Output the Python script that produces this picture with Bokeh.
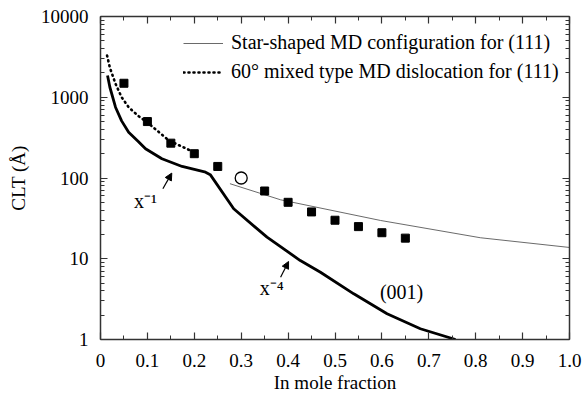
from bokeh.plotting import figure
from bokeh.models import (FixedTicker, LinearAxis, LogAxis, Legend, LegendItem,
                          CustomJSTickFormatter, Arrow, NormalHead, Label, Range1d)
from bokeh.embed import file_html
from bokeh.resources import INLINE

FONT = "Liberation Serif"

# (001) thick curve
thick_x = [0.015, 0.02, 0.032, 0.045, 0.06, 0.08, 0.096, 0.131, 0.174, 0.224, 0.234,
           0.284, 0.355, 0.426, 0.469, 0.54, 0.611, 0.682, 0.757]
thick_y = [1860, 1330, 753, 510, 369, 285, 230, 173, 139, 118, 110,
           41.6, 18.5, 9.5, 6.8, 3.68, 2.08, 1.36, 1.0]
# 60 deg mixed type MD dislocation (111)
dot_x = [0.014, 0.02, 0.032, 0.045, 0.06, 0.08, 0.0995, 0.146, 0.199]
dot_y = [3290, 2320, 1470, 1000, 753, 590, 490, 291, 209]
# Star-shaped MD configuration (111)
thin_x = [0.276, 0.384, 0.597, 0.81, 1.0]
thin_y = [85, 53.7, 29.8, 18.2, 13.8]
# measured points
sq_x = [0.05, 0.1, 0.15, 0.2, 0.25, 0.35, 0.4, 0.45, 0.5, 0.55, 0.6, 0.65]
sq_y = [1490, 500, 270, 200, 139, 69, 50, 38, 30, 25, 21, 18]
circ_x = [0.3]
circ_y = [100]

x_ticks = [0.0, 0.1, 0.2, 0.3, 0.4, 0.5, 0.6, 0.7, 0.8, 0.9, 1.0]
x_minor = [i * 0.05 for i in range(21)]
y_ticks = [1, 10, 100, 1000, 10000]
y_minor = [m * d for d in (1, 10, 100, 1000) for m in range(2, 10)]

p = figure(width=582, height=398, output_backend="svg", toolbar_location=None,
           y_axis_type="log", x_range=Range1d(0, 1.0), y_range=Range1d(1, 10000),
           min_border_left=100, min_border_right=13, min_border_top=16, min_border_bottom=59)
p.outline_line_color = None
p.grid.visible = False
p.background_fill_color = "white"

l_thin = p.line(thin_x, thin_y, line_color="#444444", line_width=0.8)
l_dot = p.line(dot_x, dot_y, line_color="black", line_width=2.6, line_dash="1 4",
               line_cap="round")
p.line(thick_x, thick_y, line_color="black", line_width=2.8)
p.scatter(sq_x, sq_y, marker="square", size=8, fill_color="black", line_color="black")
p.scatter(circ_x, circ_y, marker="circle", size=12, fill_color="white",
          line_color="black", line_width=1.3)

xt = FixedTicker(ticks=x_ticks, minor_ticks=x_minor)
yt = FixedTicker(ticks=y_ticks, minor_ticks=y_minor)
xfmt = CustomJSTickFormatter(code="return tick < 1e-9 ? '0' : tick.toFixed(1);")
blank = CustomJSTickFormatter(code="return '';")

def style(ax, labels=True):
    ax.axis_line_color = "#333333"
    ax.axis_line_width = 1.5
    ax.major_tick_in = 7
    ax.major_tick_out = 0
    ax.minor_tick_in = 4
    ax.minor_tick_out = 0
    ax.major_tick_line_color = "#333333"
    ax.minor_tick_line_color = "#333333"
    ax.major_tick_line_width = 1.2
    ax.minor_tick_line_width = 1.0
    ax.major_label_text_font = FONT
    ax.major_label_text_font_size = "19px" if labels else "1px"
    ax.major_label_text_color = "black"
    ax.axis_label_text_font = FONT
    ax.axis_label_text_font_size = "19px"
    ax.axis_label_text_font_style = "normal"
    ax.axis_label_text_color = "black"

xa = p.xaxis[0]
xa.ticker = xt
xa.formatter = xfmt
xa.axis_label = "In mole fraction"
style(xa)
xa.major_label_standoff = 14
xa.axis_label_standoff = 2

ya = p.yaxis[0]
ya.ticker = yt
ya.major_label_overrides = {1: "1", 10: "10", 100: "100", 1000: "1000", 10000: "10000"}
ya.axis_label = "CLT (Å)"
style(ya)
ya.major_label_standoff = 12
ya.axis_label_standoff = 9

top = LinearAxis(ticker=xt, formatter=blank, major_label_standoff=0, axis_label_standoff=0)
style(top, labels=False)
p.add_layout(top, "above")
right = LogAxis(ticker=yt, formatter=blank, major_label_standoff=0, axis_label_standoff=0)
style(right, labels=False)
p.add_layout(right, "right")

legend = Legend(items=[
    LegendItem(label="Star-shaped MD configuration for (111)", renderers=[l_thin]),
    LegendItem(label="60° mixed type MD dislocation for (111)", renderers=[l_dot]),
], location=(83, 256), orientation="vertical")
legend.label_text_font = FONT
legend.label_text_font_size = "20px"
legend.label_text_color = "black"
legend.glyph_width = 40
legend.label_standoff = 8
legend.spacing = 6
legend.padding = 0
legend.margin = 0
legend.border_line_color = None
legend.background_fill_alpha = 0
p.add_layout(legend)

# annotations
for (x0, y0, x1, y1) in [(0.133, 73.5, 0.152, 115), (0.384, 5.9, 0.401, 9.25)]:
    p.add_layout(Arrow(x_start=x0, y_start=y0, x_end=x1, y_end=y1, line_width=1.2,
                       end=NormalHead(size=7, fill_color="black", line_color="black")))
for (tx, ty, t) in [(0.096, 52, "x⁻¹"), (0.365, 4.4, "x⁻⁴"), (0.642, 3.86, "(001)")]:
    p.add_layout(Label(x=tx, y=ty, text=t, text_font=FONT, text_font_size="20px",
                       text_color="black", text_align="center", text_baseline="middle"))

open("out.html", "w").write(file_html(p, INLINE))
